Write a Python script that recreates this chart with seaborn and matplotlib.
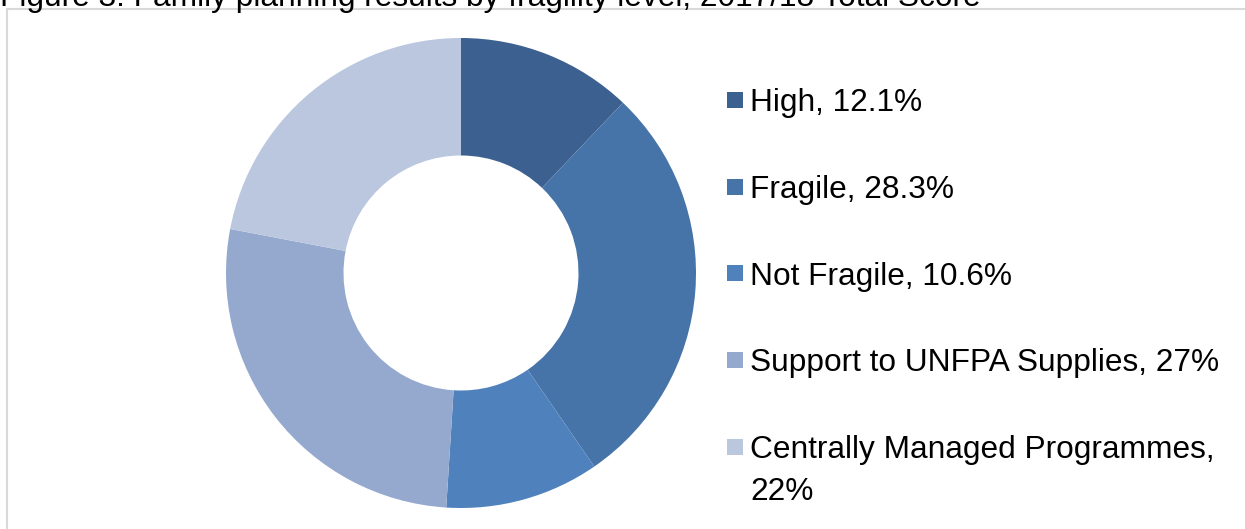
import matplotlib
matplotlib.use("Agg")
import matplotlib.pyplot as plt
from matplotlib.patches import Rectangle
import seaborn as sns

categories = ["High", "Fragile", "Not Fragile", "Support to UNFPA Supplies", "Centrally Managed Programmes"]
values = [12.1, 28.3, 10.6, 27, 22]
value_labels = ["12.1%", "28.3%", "10.6%", "27%", "22%"]
colors = ["#3C6190", "#4674A8", "#4F81BD", "#95A9CF", "#BAC7DF"]
title = "Figure 3: Family planning results by fragility level, 2017/18 Total Score"

sns.set_theme(style="white")
plt.rcParams["font.family"] = ["Liberation Sans", "DejaVu Sans"]
plt.rcParams["text.color"] = "black"

W, H = 1245, 529
fig = plt.figure(figsize=(W / 100, H / 100), dpi=100)

# chart border (light grey, extends beyond right/bottom edges)
fig.patches.append(Rectangle((7 / W, -0.05), 1.1, (H - 9) / H + 0.05, transform=fig.transFigure,
                             fill=False, edgecolor="#D9D9D9", linewidth=1.5))

cx, cy, r = 461, 273, 235
ax = fig.add_axes([(cx - r) / W, (H - cy - r) / H, 2 * r / W, 2 * r / H])
wedges, _ = ax.pie(values, colors=colors, startangle=90, counterclock=False,
                   wedgeprops=dict(width=0.5, edgecolor="none"), radius=1)
ax.set_xlim(-1, 1)
ax.set_ylim(-1, 1)
ax.set_aspect("equal")
ax.axis("off")

# legend built from the wedges' own colours and the data labels
fs = 22.8
fs_px = fs * 100 / 72
y0, step, sq = 100, 86.7, 16
line_gap = 42
for i, (w, c, v) in enumerate(zip(wedges, categories, value_labels)):
    yc = y0 + i * step
    fig.patches.append(Rectangle((727 / W, 1 - (yc + sq / 2) / H), sq / W, sq / H,
                                 transform=fig.transFigure, facecolor=w.get_facecolor(),
                                 edgecolor="none"))
    label = f"{c}, {v}"
    lines = [label] if len(label) <= 32 else [f"{c},", v]
    for k, ln in enumerate(lines):
        fig.text(750 / W, 1 - (yc + 0.358 * fs_px + k * line_gap) / H, ln, fontsize=fs,
                 ha="left", va="baseline", color="black")

fig.text(0, 1 - 6 / H, title, fontsize=fs, ha="left", va="baseline", color="black")

fig.savefig("out.png", dpi=100)
